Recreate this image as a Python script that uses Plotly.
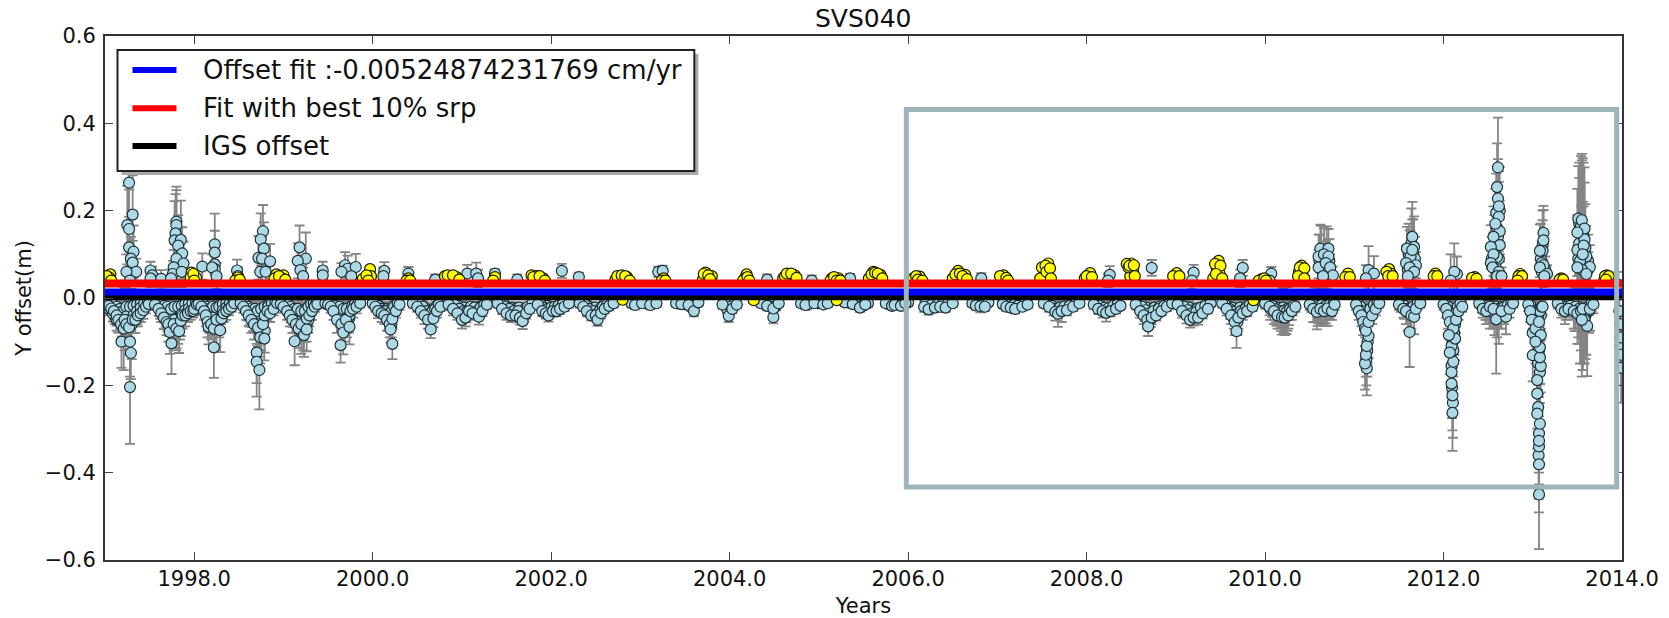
import plotly.graph_objects as go

TITLE = "SVS040"
X_LABEL = "Years"
Y_LABEL = "Y offset(m)"
X_TICKS = [1998, 2000, 2002, 2004, 2006, 2008, 2010, 2012, 2014]
X_TICK_LABELS = ["1998.0", "2000.0", "2002.0", "2004.0", "2006.0", "2008.0", "2010.0", "2012.0", "2014.0"]
Y_TICKS = [-0.6, -0.4, -0.2, 0.0, 0.2, 0.4, 0.6]
LEGEND_LABELS = ["Offset fit :-0.00524874231769 cm/yr", "Fit with best 10% srp", "IGS offset"]
LINE_X = [1997, 2014]
OFFSET_FIT = [0.0135, 0.0135]
BEST_FIT = [0.033, 0.033]
IGS_OFFSET = [0.003, 0.003]
BOX_X = [2005.98, 2013.94]
BOX_Y = [-0.4327, 0.4318]

blue_points_1997 = [(1997.02,-0.012,.012),(1997.04,-0.018,.014),(1997.07,-0.024,.016),(1997.1,-0.03,.02),(1997.13,-0.04,.024),(1997.15,-0.05,.03),(1997.18,-0.06,.035),(1997.185,-0.1,.06),(1997.21,-0.07,.095),(1997.22,-0.05,.04),(1997.24,-0.06,.05),(1997.27,-0.067,.05),(1997.28,-0.1,.08),(1997.29,-0.126,.06),(1997.28,-0.204,.13),(1997.31,-0.05,.03),(1997.34,-0.05,.03),(1997.37,-0.04,.025),(1997.4,-0.035,.02),(1997.43,-0.028,.02),(1997.46,-0.02,.015),(1997.49,-0.014,.012),
(1997.27,.264,.1),(1997.31,.191,.09),(1997.25,.167,.09),(1997.27,.158,.09),(1997.27,.116,.07),(1997.32,.106,.06),(1997.29,.09,.05),(1997.31,.081,.05),(1997.35,.06,.03),(1997.24,.06,.04),(1997.28,.04,.03),(1997.51,.063,.02),(1997.53,.052,.02),(1997.51,.045,.02),(1997.63,.044,.02),
(1997.56,-0.015,.012),(1997.6,-0.025,.016),(1997.63,-0.035,.02),(1997.66,-0.045,.026),(1997.69,-0.055,.03),(1997.71,-0.06,.04),(1997.725,-0.078,.05),(1997.745,-0.104,.07),(1997.77,-0.06,.04),(1997.8,-0.07,.05),(1997.83,-0.076,.05),(1997.85,-0.052,.035),(1997.87,-0.04,.03),(1997.9,-0.04,.025),(1997.93,-0.035,.02),(1997.96,-0.03,.02),(1997.99,-0.03,.015),(1998.0,-0.025,.015),(1998.03,-0.015,.012),
(1997.8,.175,.08),(1997.8,.167,.08),(1997.79,.148,.09),(1997.78,.132,.09),(1997.85,.133,.09),(1997.82,.12,.07),(1997.865,.102,.06),(1997.8,.09,.05),(1997.88,.079,.05),(1997.77,.07,.04),(1997.76,.055,.03),(1997.86,.06,.035),(1998.09,.072,.03),(1997.74,.045,.02)]

blue_points_1998 = [(1998.05,-0.013,.012),(1998.08,-0.02,.014),(1998.11,-0.03,.02),(1998.13,-0.04,.025),(1998.15,-0.055,.035),(1998.16,-0.066,.04),(1998.19,-0.06,.035),(1998.22,-0.113,.07),(1998.22,-0.07,.04),(1998.25,-0.05,.03),(1998.29,-0.074,.05),(1998.305,-0.047,.03),(1998.33,-0.035,.02),(1998.36,-0.03,.02),(1998.39,-0.025,.015),(1998.42,-0.02,.012),(1998.45,-0.012,.01),
(1998.23,.123,.07),(1998.23,.104,.05),(1998.23,.077,.04),(1998.23,.066,.03),(1998.2,.07,.03),(1998.25,.05,.03),(1998.48,.063,.025),(1998.49,.05,.02),
(1998.52,-0.012,.01),(1998.55,-0.02,.014),(1998.58,-0.03,.02),(1998.61,-0.04,.025),(1998.64,-0.05,.03),(1998.67,-0.06,.035),(1998.7,-0.125,.07),(1998.7,-0.146,.08),(1998.73,-0.165,.09),(1998.715,-0.068,.05),(1998.74,-0.09,.06),(1998.785,-0.093,.05),(1998.77,-0.06,.04),(1998.79,-0.04,.03),(1998.82,-0.03,.02),(1998.85,-0.035,.02),(1998.89,-0.025,.015),(1998.93,-0.012,.01),
(1998.77,.153,.06),(1998.745,.134,.06),(1998.78,.113,.06),(1998.72,.092,.05),(1998.76,.09,.05),(1998.85,.084,.04),(1998.74,.06,.03),(1998.8,.06,.03)]

blue_points_1999 = [(1998.97,-0.014,.01),(1999.0,-0.02,.014),(1999.04,-0.03,.02),(1999.07,-0.04,.025),(1999.1,-0.05,.03),(1999.125,-0.099,.055),(1999.14,-0.06,.04),(1999.17,-0.07,.045),(1999.2,-0.06,.04),(1999.23,-0.085,.05),(1999.26,-0.072,.05),(1999.26,-0.047,.03),(1999.29,-0.04,.025),(1999.32,-0.03,.02),(1999.35,-0.02,.012),(1999.38,-0.014,.01),
(1999.18,.116,.05),(1999.25,.09,.06),(1999.16,.085,.04),(1999.19,.064,.03),(1999.22,.05,.02),(1999.44,.063,.02),(1999.44,.052,.02),
(1999.47,-0.012,.01),(1999.5,-0.015,.01),(1999.53,-0.02,.014),(1999.56,-0.03,.02),(1999.6,-0.05,.03),(1999.64,-0.108,.04),(1999.65,-0.06,.04),(1999.67,-0.079,.05),(1999.7,-0.05,.03),(1999.74,-0.066,.04),(1999.75,-0.03,.02),(1999.78,-0.025,.02),(1999.82,-0.02,.015),(1999.86,-0.012,.01),
(1999.69,.075,.03),(1999.72,.067,.03),(1999.65,.06,.02),(1999.81,.071,.03),(1999.76,.05,.02)]

blue_points_2000 = [(2000.0,-0.012,.01),(2000.03,-0.02,.012),(2000.06,-0.03,.016),(2000.1,-0.035,.02),(2000.13,-0.04,.02),(2000.16,-0.05,.025),(2000.19,-0.06,.03),(2000.2,-0.072,.03),(2000.22,-0.105,.035),(2000.22,-0.048,.02),(2000.26,-0.03,.015),(2000.3,-0.015,.012),
(2000.13,.062,.02),(2000.12,.05,.02),(2000.4,.056,.015),
(2000.45,-0.012,.01),(2000.5,-0.02,.012),(2000.54,-0.03,.015),(2000.58,-0.04,.02),(2000.62,-0.05,.02),(2000.65,-0.072,.02),(2000.68,-0.047,.02),(2000.72,-0.03,.015),(2000.76,-0.02,.01),(2000.7,.042,.012),
(2000.85,-0.015,.012),(2000.9,-0.025,.015),(2000.95,-0.035,.015),(2001.0,-0.05,.02),(2001.04,-0.045,.02),(2001.08,-0.03,.015),(2001.12,-0.035,.015),(2001.19,-0.043,.018),(2001.23,-0.03,.012),(2001.28,-0.015,.01),(2001.06,.056,.02),(2001.16,.056,.025),(2001.18,.045,.02),(2001.37,.056,.01),
(2001.4,-0.012,.01),(2001.45,-0.025,.012),(2001.5,-0.035,.015),(2001.55,-0.04,.015),(2001.6,-0.04,.016),(2001.65,-0.045,.016),(2001.68,-0.053,.018),(2001.72,-0.035,.012),(2001.76,-0.025,.01),(2001.62,.042,.012),
(2001.85,-0.015,.01),(2001.9,-0.03,.012),(2001.94,-0.035,.012),(2001.97,-0.04,.014),(2002.02,-0.03,.012),(2002.06,-0.03,.012),(2002.1,-0.025,.012),(2002.15,-0.02,.01),(2002.2,-0.012,.01),(2002.12,.062,.016),(2002.31,.048,.01),
(2002.32,-0.012,.01),(2002.36,-0.02,.01),(2002.4,-0.03,.012),(2002.45,-0.04,.012),(2002.5,-0.04,.012),(2002.52,-0.05,.014),(2002.56,-0.035,.012),(2002.6,-0.025,.01),(2002.65,-0.018,.01),(2002.7,-0.012,.01)]

blue_points_2003 = [(2002.9,-0.012,.01),(2002.94,-0.016,.01),(2003.02,-0.012,.01),(2003.11,-0.016,.01),(2003.18,-0.012,.008),(2003.2,.06,.012),(2003.25,.062,.012),
(2003.4,-0.012,.008),(2003.46,-0.014,.01),(2003.54,-0.016,.01),(2003.6,-0.03,.012),(2003.65,-.01,.008),
(2003.92,-0.015,.01),(2003.99,-0.041,.014),(2004.03,-0.025,.01),(2004.08,-.015,.008),(2004.35,-.012,.008),(2004.42,-.018,.01),(2004.42,.042,.012),(2004.49,-.044,.014),(2004.49,-.024,.01),(2004.55,-.012,.008),
(2004.8,-.012,.008),(2004.85,-.016,.01),(2004.92,.04,.012),(2004.95,-.012,.008),(2005.05,-.015,.008),(2005.1,-.012,.008),(2005.35,.045,.01),(2005.38,-.014,.008),(2005.46,-.022,.01),(2005.52,-.015,.008),(2005.75,-.012,.008),(2005.82,-.018,.008),(2005.85,-.016,.008),(2005.92,-.018,.008),(2005.97,-.012,.008)]

blue_points_2006 = [(2006.18,-.02,.012),(2006.23,-.026,.012),(2006.3,-.022,.01),(2006.36,-.02,.008),(2006.42,-.022,.01),(2006.5,-.012,.008),
(2006.72,-.012,.008),(2006.76,-.017,.01),(2006.81,-.019,.014),(2006.86,-.02,.01),(2006.82,.045,.012),(2007.06,-.014,.008),(2007.1,-.02,.01),(2007.15,-.022,.01),(2007.2,-.025,.01),(2007.28,-.02,.008),(2007.34,-.015,.008),
(2007.52,-.012,.01),(2007.58,-.02,.012),(2007.65,-.032,.02),(2007.68,-.036,.03),(2007.72,-.03,.025),(2007.78,-.028,.012),(2007.85,-.02,.01),(2007.92,-.012,.008),
(2008.08,-.015,.01),(2008.13,-.025,.012),(2008.18,-.03,.015),(2008.22,-.034,.02),(2008.27,-.03,.012),(2008.33,-.025,.01),(2008.38,-.018,.008),(2008.26,.053,.02),(2008.24,.04,.015),
(2008.55,-.015,.01),(2008.6,-.03,.015),(2008.64,-.04,.02),(2008.68,-.05,.02),(2008.69,-.065,.022),(2008.73,-.045,.015),(2008.78,-.04,.012),(2008.84,-.03,.01),(2008.9,-.02,.01),(2008.96,-.012,.008),(2008.73,.069,.018),
(2009.02,-.015,.01),(2009.07,-.03,.015),(2009.12,-.04,.018),(2009.16,-.05,.018),(2009.2,-.045,.018),(2009.25,-.045,.016),(2009.3,-.035,.012),(2009.36,-.025,.01),(2009.2,.058,.018),(2009.18,.04,.02),
(2009.52,-.012,.01),(2009.57,-.025,.015),(2009.62,-.04,.02),(2009.66,-.055,.03),(2009.68,-.076,.038),(2009.7,-.045,.025),(2009.75,-.035,.015),(2009.8,-.03,.012),(2009.86,-.02,.01),(2009.75,.069,.018),(2009.72,.045,.02)]

blue_points_2010 = [(2010.0,-.012,.012),(2010.05,-.02,.02),(2010.1,-.03,.03),(2010.14,-.04,.03),(2010.19,-.044,.04),(2010.22,-.045,.04),(2010.26,-.04,.03),(2010.3,-.03,.02),(2010.34,-.02,.012),(2010.07,.056,.015),(2010.05,.04,.012),
(2010.5,-.015,.012),(2010.54,-.025,.03),(2010.58,-.032,.04),(2010.62,-.025,.03),(2010.66,-.03,.02),(2010.7,-.024,.04),(2010.75,-.03,.02),(2010.78,-.015,.012),
(2010.62,.113,.055),(2010.71,.113,.045),(2010.6,.095,.05),(2010.66,.1,.06),(2010.71,.095,.04),(2010.6,.07,.04),(2010.68,.08,.05),(2010.73,.07,.03),(2010.76,.052,.02),(2010.65,.05,.03),
(2011.02,-.015,.012),(2011.05,-.03,.02),(2011.08,-.04,.025),(2011.1,-.055,.03),(2011.12,-.07,.04),(2011.14,-.161,.062),(2011.12,-.15,.06),(2011.13,-.13,.05),(2011.14,-.11,.05),(2011.16,-.087,.05),(2011.13,-.075,.04),(2011.16,-.055,.03),(2011.2,-.04,.02),(2011.24,-.025,.015),(2011.28,-.012,.01),(2011.16,.064,.055),(2011.22,.056,.04),(2011.13,.045,.03),
(2011.5,-.015,.012),(2011.55,-.025,.02),(2011.58,-.03,.03),(2011.62,-.078,.08),(2011.64,-.04,.03),(2011.67,-.043,.04),(2011.69,-.025,.02),(2011.74,-.012,.01),
(2011.65,.14,.08),(2011.67,.117,.07),(2011.59,.113,.05),(2011.63,.095,.06),(2011.65,.11,.07),(2011.58,.08,.04),(2011.69,.075,.03),(2011.62,.07,.04),(2011.67,.06,.03),(2011.6,.05,.03)]

blue_points_2012 = [(2012.0,-.015,.012),(2012.03,-.025,.02),(2012.05,-.04,.03),(2012.07,-.055,.035),(2012.1,-.263,.087),(2012.1,-.223,.08),(2012.09,-.196,.07),(2012.09,-.17,.06),(2012.11,-.146,.06),(2012.07,-.125,.05),(2012.13,-.093,.05),(2012.11,-.07,.04),(2012.06,-.085,.04),(2012.14,-.05,.03),(2012.17,-.03,.02),(2012.21,-.02,.012),
(2012.15,.055,.04),(2012.12,.06,.065),(2012.08,.04,.06),
(2012.4,-.012,.01),(2012.44,-.025,.02),(2012.48,-.03,.03),(2012.52,-.02,.05),(2012.56,-.025,.04),(2012.59,-.049,.124),(2012.7,-.043,.04),(2012.65,-.03,.04),(2012.74,-.025,.02),(2012.78,-.012,.01),
(2012.61,.299,.114),(2012.6,.254,.1),(2012.61,.228,.09),(2012.62,.21,.08),(2012.62,.186,.08),(2012.63,.153,.07),(2012.58,.17,.08),(2012.56,.14,.07),(2012.63,.121,.06),(2012.53,.117,.05),(2012.6,.094,.05),(2012.56,.1,.05),(2012.53,.08,.04),(2012.55,.07,.04),(2012.62,.06,.03),(2012.6,.05,.03),(2012.65,.05,.02),
(2012.95,-.015,.015),(2012.97,-.03,.025),(2012.99,-.05,.035),(2013.0,-.131,.06),(2013.0,-.08,.05),(2013.03,-.07,.05),(2013.07,-.45,.125),(2013.07,-.381,.11),(2013.07,-.34,.1),(2013.07,-.327,.1),(2013.08,-.288,.09),(2013.05,-.265,.08),(2013.05,-.219,.08),(2013.05,-.188,.07),(2013.09,-.156,.06),(2013.08,-.136,.06),(2013.08,-.113,.05),(2013.09,-.085,.05),(2013.03,-.1,.05),(2013.07,-.055,.04),(2013.11,-.02,.02),
(2013.12,.149,.062),(2013.12,.132,.07),(2013.11,.108,.07),(2013.08,.108,.06),(2013.12,.075,.05),(2013.08,.07,.04),(2013.16,.055,.02),(2013.13,.05,.02),
(2013.28,-.012,.012),(2013.32,-.025,.02),(2013.36,-.03,.03),(2013.4,-.025,.02),(2013.46,-.03,.04),(2013.5,-.035,.07),(2013.54,-.03,.09),(2013.58,-.05,.1),(2013.61,-.064,.115),(2013.55,-.05,.13),(2013.56,-.025,.14),(2013.64,-.025,.05),(2013.68,-.015,.02),
(2013.51,.182,.12),(2013.55,.178,.152),(2013.58,.159,.14),(2013.58,.134,.13),(2013.5,.15,.1),(2013.5,.11,.08),(2013.6,.095,.07),(2013.64,.071,.05),(2013.53,.085,.06),(2013.55,.065,.05),(2013.5,.07,.05),(2013.6,.055,.04),(2013.57,.12,.09),(2013.56,.1,.12),
(2013.98,-.06,.04),(2013.98,-.11,.06),(2013.99,-.16,.08),(2013.97,-.03,.03),(2013.96,.03,.03),(2013.98,-.09,.05),(2013.99,-.13,.07)]

blue_inner_early = [(1997.01,-.01,.01),(1997.05,-.012,.01),(1997.05,-.026,.014),(1997.09,-.015,.012),(1997.09,-.036,.018),(1997.13,-.02,.015),(1997.13,-.05,.025),(1997.17,-.025,.018),(1997.17,-.042,.03),(1997.2,-.03,.03),(1997.2,-.058,.05),(1997.24,-.02,.04),(1997.24,-.042,.06),(1997.28,-.02,.05),(1997.28,-.05,.07),(1997.32,-.018,.03),(1997.32,-.04,.04),(1997.36,-.015,.02),(1997.36,-.03,.03),(1997.4,-.012,.014),(1997.4,-.022,.018),(1997.44,-.012,.012),(1997.48,-.01,.01),
(1997.58,-.012,.01),(1997.62,-.014,.012),(1997.62,-.03,.018),(1997.66,-.018,.015),(1997.66,-.036,.02),(1997.7,-.02,.018),(1997.7,-.046,.03),(1997.74,-.025,.02),(1997.74,-.06,.04),(1997.78,-.02,.02),(1997.78,-.05,.04),(1997.82,-.02,.02),(1997.82,-.06,.045),(1997.86,-.018,.02),(1997.86,-.036,.03),(1997.9,-.014,.014),(1997.9,-.028,.02),(1997.94,-.012,.012),(1997.94,-.024,.018),(1997.98,-.012,.01),(1998.02,-.01,.01),
(1998.07,-.012,.01),(1998.1,-.014,.012),(1998.13,-.02,.016),(1998.13,-.032,.02),(1998.17,-.025,.02),(1998.17,-.05,.03),(1998.21,-.02,.025),(1998.21,-.045,.04),(1998.25,-.022,.03),(1998.25,-.062,.05),(1998.28,-.02,.02),(1998.28,-.05,.04),(1998.32,-.014,.014),(1998.32,-.028,.018),(1998.36,-.012,.012),(1998.36,-.022,.014),(1998.4,-.012,.01),(1998.44,-.01,.01),
(1998.53,-.01,.01),(1998.57,-.014,.012),(1998.6,-.02,.014),(1998.6,-.032,.02),(1998.64,-.024,.018),(1998.64,-.04,.026),(1998.68,-.025,.02),(1998.68,-.05,.03),(1998.71,-.03,.03),(1998.71,-.06,.05),(1998.75,-.025,.03),(1998.75,-.07,.05),(1998.79,-.02,.02),(1998.79,-.075,.05),(1998.83,-.016,.014),(1998.83,-.02,.016),(1998.87,-.012,.012),(1998.91,-.01,.01),
(1999.01,-.012,.01),(1999.05,-.016,.012),(1999.08,-.02,.016),(1999.08,-.034,.022),(1999.12,-.025,.02),(1999.12,-.05,.03),(1999.16,-.025,.02),(1999.16,-.055,.04),(1999.2,-.03,.025),(1999.2,-.078,.05),(1999.24,-.03,.025),(1999.24,-.06,.04),(1999.28,-.02,.016),(1999.28,-.05,.03),(1999.31,-.014,.012),(1999.34,-.012,.01),(1999.37,-.01,.01),
(1999.49,-.01,.01),(1999.53,-.012,.01),(1999.57,-.018,.014),(1999.6,-.025,.018),(1999.63,-.04,.025),(1999.63,-.02,.014),(1999.67,-.05,.035),(1999.67,-.025,.018),(1999.71,-.025,.018),(1999.71,-.055,.035),(1999.74,-.04,.025),(1999.77,-.018,.014),(1999.8,-.014,.012),(1999.84,-.01,.01),
(2000.02,-.012,.01),(2000.06,-.018,.012),(2000.09,-.025,.014),(2000.12,-.03,.016),(2000.15,-.03,.018),(2000.18,-.045,.025),(2000.21,-.03,.018),(2000.21,-.06,.03),(2000.24,-.02,.014),(2000.28,-.012,.01),
(2000.47,-.01,.01),(2000.52,-.014,.01),(2000.56,-.02,.012),(2000.6,-.03,.014),(2000.63,-.04,.016),(2000.67,-.03,.014),(2000.7,-.025,.012),(2000.74,-.015,.01),
(2000.88,-.012,.01),(2000.92,-.016,.012),(2000.97,-.025,.014),(2001.02,-.03,.014),(2001.06,-.03,.014),(2001.1,-.02,.012),(2001.14,-.022,.012),(2001.17,-.03,.012),(2001.21,-.022,.012),(2001.25,-.016,.01),
(2001.43,-.012,.01),(2001.48,-.02,.01),(2001.53,-.025,.012),(2001.58,-.03,.012),(2001.63,-.03,.012),(2001.7,-.04,.014),(2001.74,-.02,.01),(2001.79,-.012,.01),
(2001.88,-.014,.01),(2001.92,-.022,.012),(2001.96,-.025,.012),(2002.0,-.022,.01),(2002.04,-.02,.01),(2002.08,-.018,.01),(2002.13,-.014,.01),
(2002.34,-.012,.008),(2002.38,-.016,.01),(2002.42,-.025,.01),(2002.47,-.03,.012),(2002.54,-.03,.012),(2002.58,-.02,.01),(2002.63,-.014,.01),(2002.68,-.01,.008)]

blue_inner_middle = [(2003.45,-.012,.008),(2003.5,-.014,.008),(2003.57,-.02,.01),(2003.95,-.012,.008),(2003.97,-.025,.01),(2004.01,-.02,.01),(2004.39,-.013,.008),(2004.46,-.02,.01),(2004.52,-.018,.01),(2004.82,-.012,.008),(2004.88,-.015,.008),(2005.0,-.012,.008),(2005.42,-.015,.01),(2005.49,-.018,.008),(2005.55,-.012,.008),(2005.78,-.014,.008),(2005.88,-.014,.008),(2005.95,-.014,.008),(2006.0,-.01,.008),(2005.33,-.01,.008),(2005.29,-.01,.008),(2002.96,-.01,.008),(2003.06,-.012,.008),(2003.14,-.012,.008),
(2006.2,-.012,.01),(2006.26,-.016,.01),(2006.33,-.014,.008),(2006.39,-.014,.008),(2006.45,-.012,.008),(2006.74,-.012,.008),(2006.79,-.014,.01),(2006.84,-.014,.01),(2006.9,-.01,.008),(2007.08,-.012,.008),(2007.12,-.014,.008),(2007.18,-.016,.008),(2007.23,-.018,.01),(2007.31,-.012,.008),(2007.55,-.014,.01),(2007.61,-.018,.012),(2007.63,-.025,.015),(2007.7,-.022,.02),(2007.75,-.02,.015),(2007.81,-.018,.01),(2007.88,-.012,.008),(2008.1,-.012,.01),(2008.15,-.018,.012),(2008.2,-.022,.016),(2008.24,-.024,.018),(2008.3,-.018,.012),(2008.35,-.014,.01),
(2008.57,-.015,.012),(2008.62,-.02,.014),(2008.66,-.028,.016),(2008.7,-.035,.02),(2008.75,-.03,.016),(2008.81,-.025,.012),(2008.87,-.018,.01),(2008.93,-.012,.008),
(2009.04,-.014,.012),(2009.09,-.02,.014),(2009.13,-.028,.016),(2009.18,-.035,.018),(2009.23,-.032,.016),(2009.28,-.022,.012),(2009.33,-.018,.01),(2009.39,-.012,.008),
(2009.55,-.014,.012),(2009.6,-.025,.016),(2009.64,-.032,.02),(2009.67,-.038,.025),(2009.73,-.03,.018),(2009.78,-.025,.012),(2009.83,-.016,.01),(2009.88,-.01,.008)]

blue_inner_late = [(2010.03,-.012,.014),(2010.08,-.018,.025),(2010.12,-.026,.03),(2010.17,-.03,.04),(2010.21,-.03,.05),(2010.24,-.032,.05),(2010.28,-.025,.025),(2010.32,-.018,.014),
(2010.52,-.012,.02),(2010.56,-.016,.04),(2010.6,-.018,.04),(2010.64,-.015,.03),(2010.68,-.018,.04),(2010.72,-.016,.03),(2010.77,-.012,.012),
(2010.61,.085,.06),(2010.63,.105,.06),(2010.69,.104,.06),(2010.72,.085,.05),(2010.63,.065,.05),(2010.69,.06,.04),
(2011.04,-.012,.014),(2011.07,-.02,.02),(2011.09,-.03,.025),(2011.11,-.04,.03),(2011.14,-.045,.03),(2011.16,-.035,.03),(2011.18,-.025,.02),(2011.22,-.016,.012),(2011.26,-.01,.01),(2011.145,-.12,.06),(2011.135,-.14,.06),(2011.15,-.1,.05),
(2011.52,-.012,.02),(2011.56,-.018,.03),(2011.6,-.025,.05),(2011.63,-.025,.05),(2011.66,-.02,.03),(2011.71,-.012,.014),
(2011.61,.1,.07),(2011.64,.125,.08),(2011.66,.1,.08),(2011.68,.09,.05),(2011.62,.085,.07),(2011.6,.065,.04),(2011.66,.07,.05),
(2012.02,-.012,.014),(2012.05,-.02,.02),(2012.08,-.03,.03),(2012.1,-.04,.03),(2012.12,-.045,.04),(2012.14,-.03,.025),(2012.16,-.02,.014),(2012.19,-.012,.01),(2012.09,-.155,.06),(2012.1,-.1,.05),(2012.11,-.12,.06),(2012.12,-.08,.05),(2012.095,-.205,.07),(2012.105,-.24,.08),(2012.09,-.11,.05),
(2012.42,-.012,.012),(2012.46,-.018,.02),(2012.5,-.022,.03),(2012.54,-.018,.04),(2012.58,-.02,.05),(2012.62,-.025,.08),(2012.67,-.022,.03),(2012.72,-.016,.014),(2012.76,-.01,.01),
(2012.59,.13,.07),(2012.6,.16,.07),(2012.61,.14,.08),(2012.54,.09,.05),(2012.58,.075,.05),(2012.62,.09,.05),(2012.57,.12,.07),(2012.63,.2,.1),(2012.59,.195,.09),
(2012.97,-.015,.02),(2013.0,-.03,.03),(2013.02,-.045,.04),(2013.04,-.06,.05),(2013.06,-.09,.05),(2013.06,-.15,.06),(2013.07,-.12,.05),(2013.06,-.04,.03),(2013.08,-.03,.02),(2013.1,-.02,.014),(2013.06,-.25,.08),(2013.065,-.36,.1),(2013.07,-.31,.09),(2013.08,-.17,.07),
(2013.09,.09,.08),(2013.11,.12,.08),(2013.1,.08,.05),(2013.14,.065,.03),(2013.1,.06,.05),
(2013.3,-.012,.012),(2013.34,-.02,.02),(2013.38,-.02,.02),(2013.42,-.018,.02),(2013.48,-.02,.05),(2013.52,-.025,.08),(2013.56,-.035,.13),(2013.6,-.03,.1),(2013.62,-.02,.05),(2013.66,-.012,.02),
(2013.52,.17,.14),(2013.54,.165,.16),(2013.56,.15,.17),(2013.55,.125,.19),(2013.52,.125,.15),(2013.59,.115,.1),(2013.51,.09,.07),(2013.62,.085,.06),(2013.57,.08,.08),(2013.62,.065,.04),(2013.54,.11,.1),(2013.57,.14,.17)]

blue_dense_early = [(1997.03,-.02,.012),(1997.07,-.014,.01),(1997.11,-.022,.015),(1997.11,-.04,.02),(1997.15,-.03,.02),(1997.15,-.024,.016),(1997.19,-.035,.03),(1997.19,-.048,.04),(1997.22,-.03,.05),(1997.22,-.04,.08),(1997.26,-.03,.06),(1997.26,-.05,.08),(1997.3,-.03,.05),(1997.3,-.06,.08),(1997.34,-.025,.02),(1997.34,-.035,.03),(1997.38,-.02,.016),(1997.38,-.03,.02),(1997.42,-.016,.012),(1997.46,-.012,.01),
(1997.6,-.018,.012),(1997.64,-.024,.016),(1997.68,-.028,.018),(1997.68,-.042,.024),(1997.72,-.03,.02),(1997.72,-.052,.035),(1997.76,-.03,.03),(1997.76,-.045,.05),(1997.8,-.03,.04),(1997.8,-.055,.06),(1997.84,-.028,.03),(1997.84,-.045,.05),(1997.88,-.022,.02),(1997.92,-.018,.016),(1997.96,-.016,.014),(1998.0,-.014,.01),
(1998.09,-.016,.012),(1998.12,-.024,.016),(1998.15,-.03,.02),(1998.15,-.045,.03),(1998.19,-.035,.03),(1998.19,-.05,.04),(1998.23,-.03,.03),(1998.23,-.055,.05),(1998.27,-.035,.03),(1998.3,-.03,.03),(1998.3,-.04,.03),(1998.34,-.018,.014),(1998.38,-.014,.012),
(1998.55,-.012,.01),(1998.59,-.024,.014),(1998.62,-.028,.018),(1998.62,-.038,.024),(1998.66,-.03,.02),(1998.66,-.046,.03),(1998.7,-.035,.03),(1998.7,-.055,.05),(1998.73,-.04,.04),(1998.73,-.075,.06),(1998.77,-.035,.04),(1998.77,-.05,.05),(1998.81,-.025,.02),(1998.85,-.018,.014),(1998.89,-.014,.01),
(1999.03,-.018,.012),(1999.06,-.024,.016),(1999.1,-.03,.02),(1999.1,-.04,.026),(1999.14,-.035,.024),(1999.14,-.048,.03),(1999.18,-.035,.03),(1999.18,-.05,.04),(1999.22,-.04,.03),(1999.22,-.07,.05),(1999.26,-.025,.02),(1999.26,-.06,.04),(1999.3,-.025,.016),(1999.33,-.018,.012),
(1999.55,-.014,.01),(1999.59,-.02,.014),(1999.62,-.032,.02),(1999.65,-.03,.02),(1999.65,-.045,.03),(1999.69,-.035,.025),(1999.69,-.06,.04),(1999.73,-.03,.02),(1999.73,-.05,.03),(1999.76,-.02,.016),(1999.79,-.016,.012),
(2000.04,-.014,.01),(2000.08,-.02,.012),(2000.11,-.026,.014),(2000.14,-.025,.016),(2000.17,-.038,.02),(2000.2,-.025,.016),(2000.2,-.05,.025),(2000.23,-.035,.018),(2000.25,-.018,.012),
(2000.49,-.012,.01),(2000.55,-.018,.012),(2000.59,-.024,.014),(2000.62,-.03,.016),(2000.65,-.03,.016),(2000.66,-.045,.018),(2000.71,-.02,.012),
(2000.91,-.014,.01),(2000.96,-.018,.012),(2000.99,-.03,.014),(2001.03,-.022,.014),(2001.05,-.04,.016),(2001.09,-.024,.012),(2001.13,-.028,.012),(2001.16,-.022,.012),(2001.2,-.032,.014),(2001.22,-.018,.01),
(2001.47,-.014,.01),(2001.52,-.03,.012),(2001.56,-.022,.012),(2001.6,-.025,.012),(2001.64,-.022,.012),(2001.67,-.04,.014),(2001.71,-.025,.012),
(2001.91,-.016,.01),(2001.95,-.018,.012),(2001.99,-.032,.012),(2002.03,-.022,.012),(2002.07,-.024,.01),(2002.11,-.016,.01),
(2002.41,-.018,.01),(2002.44,-.03,.012),(2002.49,-.022,.012),(2002.51,-.038,.012),(2002.55,-.024,.012),(2002.59,-.016,.01)]

blue_dense_late = [(2008.59,-.02,.012),(2008.63,-.025,.014),(2008.65,-.035,.018),(2008.67,-.022,.016),(2008.71,-.028,.018),(2008.72,-.048,.018),(2008.76,-.022,.014),(2008.8,-.032,.012),(2008.82,-.02,.012),
(2009.06,-.018,.012),(2009.1,-.028,.014),(2009.14,-.032,.016),(2009.15,-.022,.014),(2009.19,-.028,.016),(2009.21,-.038,.018),(2009.24,-.025,.014),(2009.27,-.03,.014),(2009.31,-.025,.012),
(2009.58,-.018,.012),(2009.61,-.032,.016),(2009.63,-.022,.016),(2009.65,-.045,.025),(2009.68,-.03,.02),(2009.69,-.055,.03),(2009.72,-.022,.016),(2009.76,-.028,.014),(2009.79,-.02,.012),
(2010.06,-.025,.025),(2010.1,-.02,.03),(2010.13,-.034,.03),(2010.15,-.022,.04),(2010.18,-.036,.04),(2010.2,-.022,.045),(2010.23,-.038,.045),(2010.25,-.025,.05),(2010.27,-.032,.03),(2010.31,-.024,.016),
(2010.55,-.02,.035),(2010.59,-.024,.04),(2010.63,-.02,.04),(2010.67,-.024,.04),(2010.71,-.02,.03),(2010.74,-.022,.02),
(2011.06,-.02,.02),(2011.1,-.035,.025),(2011.13,-.03,.03),(2011.15,-.05,.03),(2011.17,-.028,.02),(2011.21,-.02,.014),
(2012.04,-.018,.016),(2012.07,-.035,.025),(2012.09,-.045,.03),(2012.11,-.03,.03),(2012.13,-.06,.04),(2012.15,-.025,.02),
(2012.43,-.018,.016),(2012.47,-.025,.025),(2012.51,-.028,.03),(2012.55,-.03,.04),(2012.57,-.035,.05),(2012.6,-.03,.06),(2012.64,-.02,.05),(2012.68,-.03,.03),(2012.71,-.02,.016),
(2012.98,-.022,.02),(2013.01,-.04,.03),(2013.03,-.03,.03),(2013.05,-.05,.04),(2013.07,-.075,.05),(2013.09,-.04,.03),
(2013.33,-.018,.016),(2013.37,-.025,.025),(2013.41,-.02,.02),(2013.44,-.02,.03),(2013.47,-.026,.05),(2013.51,-.02,.07),(2013.53,-.04,.11),(2013.57,-.03,.12),(2013.59,-.04,.1),(2013.63,-.03,.05)]

yellow_x = [1997.06,1997.05,1997.97,1998.02,1997.96,1998.49,1998.92,1999.0,1998.98,1999.97,1999.89,1999.98,2000.4,2000.87,2000.81,2000.94,2001.37,2001.78,2001.84,2001.91,2002.77,2002.85,2002.72,2003.26,2003.73,2003.8,2003.7,2004.19,2004.17,2004.66,2004.73,2004.6,2005.145,2005.22,2005.61,2005.69,2005.56,2006.13,2006.06,2006.56,2006.64,2006.5,2007.07,2007.05,2007.57,2007.52,2007.57,2007.48,2008.04,2007.98,2008.5,2008.52,2008.45,2008.49,2009.01,2009.0,2009.48,2009.46,2009.49,2009.42,2009.97,2010.41,2010.42,2010.38,2010.93,2011.39,2011.41,2011.91,2012.35,2012.86,2012.87,2013.32,2013.83,2013.84,2013.8,2004.27,2005.2,2002.8,2009.87,
1997.02,1997.07,1997.99,1998.0,1998.46,1998.51,1998.9,1998.95,1999.02,1999.93,1999.95,2000.38,2000.42,2000.84,2000.9,2000.97,2001.35,2001.8,2001.87,2001.93,2002.74,2002.79,2002.83,2002.88,2003.24,2003.28,2003.71,2003.76,2003.78,2004.15,2004.2,2004.22,2004.62,2004.64,2004.69,2004.75,2005.13,2005.17,2005.2,2005.24,2005.59,2005.63,2005.66,2005.71,2006.09,2006.11,2006.16,2006.53,2006.58,2006.61,2006.66,2007.03,2007.1,2007.12,2007.5,2007.54,2007.55,2007.59,2007.6,2008.0,2008.06,2008.47,2008.48,2008.53,2008.54,2008.97,2009.04,2009.44,2009.5,2009.45,2009.52,2009.93,2009.99,2010.01,2010.39,2010.44,2010.37,2010.44,2010.9,2010.95,2011.36,2011.38,2011.43,2011.89,2011.93,2012.32,2012.37,2012.84,2012.88,2012.83,2013.3,2013.34,2013.81,2013.85,2013.82]
yellow_y = [.054,.047,.058,.047,.047,.047,.054,.052,.045,.066,.044,.05,.045,.048,.05,.048,.048,.052,.05,.045,.048,.048,.042,.045,.058,.05,.042,.054,.045,.052,.052,.045,.045,.045,.06,.053,.045,.049,.045,.062,.053,.045,.052,.045,.079,.064,.053,.045,.057,.045,.079,.062,.078,.05,.057,.045,.085,.067,.056,.045,.044,.074,.052,.06,.056,.066,.056,.056,.048,.055,.046,.045,.052,.044,.04,-.005,-.005,-.004,-.005,
.05,.04,.055,.04,.04,.042,.045,.05,.042,.052,.04,.04,.04,.052,.052,.042,.04,.048,.05,.04,.05,.052,.05,.04,.04,.04,.055,.052,.043,.04,.048,.04,.05,.056,.056,.046,.04,.048,.04,.04,.054,.058,.056,.045,.05,.042,.04,.054,.056,.05,.043,.05,.046,.04,.07,.074,.06,.068,.045,.05,.048,.07,.074,.075,.05,.05,.05,.078,.074,.055,.045,.04,.045,.04,.07,.068,.05,.045,.048,.048,.06,.05,.05,.05,.05,.046,.044,.05,.05,.04,.042,.042,.05,.05,.042]

assert len(yellow_x) == len(yellow_y)

blue_groups = [blue_dense_early, blue_dense_late, blue_inner_early, blue_inner_middle, blue_inner_late,
               blue_points_1997, blue_points_1998, blue_points_1999, blue_points_2000,
               blue_points_2003, blue_points_2006, blue_points_2010, blue_points_2012]
blue_all = [p for g in blue_groups for p in g]
blue_x = [p[0] for p in blue_all]
blue_y = [p[1] for p in blue_all]
blue_e = [p[2] for p in blue_all]

W, H = 1669, 618
L, R, T, B = 104.5, 1622, 36, 559.7
FONT = "DejaVu Sans"
def px(v): return (v - L) / (R - L)
def py(v): return (B - v) / (B - T)

fig = go.Figure()
fig.add_trace(go.Scatter(x=blue_x, y=blue_y, mode="markers", showlegend=False, hoverinfo="skip",
    marker=dict(size=11, color="#ADD8E6", line=dict(color="#1f3035", width=1.2)),
    error_y=dict(type="data", array=blue_e, visible=True, color="#858585", thickness=1.8, width=5)))
fig.add_trace(go.Scatter(x=yellow_x, y=yellow_y, mode="markers", showlegend=False, hoverinfo="skip",
    marker=dict(size=11, color="#FFFF00", line=dict(color="#1a1a00", width=1.2))))
fig.add_trace(go.Scatter(x=LINE_X, y=IGS_OFFSET, mode="lines", showlegend=False, hoverinfo="skip", line=dict(color="#000000", width=7)))
fig.add_trace(go.Scatter(x=LINE_X, y=OFFSET_FIT, mode="lines", showlegend=False, hoverinfo="skip", line=dict(color="#0000FF", width=7)))
fig.add_trace(go.Scatter(x=LINE_X, y=BEST_FIT, mode="lines", showlegend=False, hoverinfo="skip", line=dict(color="#FF0000", width=8)))

shapes = [
    dict(type="rect", xref="x", yref="y", x0=BOX_X[0], x1=BOX_X[1], y0=BOX_Y[0], y1=BOX_Y[1],
         line=dict(color="#9db5b9", width=5), fillcolor="rgba(0,0,0,0)", layer="above"),
    dict(type="rect", xref="paper", yref="paper", x0=px(121), x1=px(698), y0=py(175), y1=py(54),
         fillcolor="#a8a8a8", line=dict(width=0), layer="above"),
    dict(type="rect", xref="paper", yref="paper", x0=px(117), x1=px(694), y0=py(171), y1=py(50),
         fillcolor="#ffffff", line=dict(color="#222222", width=2), layer="above"),
]
key_colors = ["#0000FF", "#FF0000", "#000000"]
key_y = [70, 108.3, 146]
annotations = []
for label, c, y in zip(LEGEND_LABELS, key_colors, key_y):
    shapes.append(dict(type="line", xref="paper", yref="paper", x0=px(132), x1=px(176), y0=py(y), y1=py(y),
                       line=dict(color=c, width=6), layer="above"))
    annotations.append(dict(xref="paper", yref="paper", x=px(201), y=py(y), text=label, showarrow=False,
                            xanchor="left", yanchor="middle", font=dict(family=FONT, size=26, color="#111111")))

axis = dict(showline=True, linewidth=2, linecolor="#333333", mirror="allticks", ticks="inside", ticklen=8,
            tickwidth=1, tickcolor="#444444", showgrid=False, zeroline=False, automargin=False,
            tickfont=dict(family=FONT, size=21, color="#111111"))
fig.update_layout(
    width=W, height=H, autosize=False, paper_bgcolor="white", plot_bgcolor="white",
    margin=dict(l=L, r=W - R, t=T, b=H - B),
    title=dict(text=TITLE, x=(L + R) / 2 / W, xanchor="center", y=1 - 18 / H, yanchor="middle",
               font=dict(family=FONT, size=25, color="#111111")),
    xaxis=dict(axis, range=[1997, 2014], tickvals=X_TICKS, ticktext=X_TICK_LABELS, ticklabelstandoff=-1,
               title=dict(text=X_LABEL, standoff=20, font=dict(family=FONT, size=21, color="#111111"))),
    yaxis=dict(axis, range=[-0.6, 0.6], tickvals=Y_TICKS, tickformat=".1f", ticklabelstandoff=3,
               title=dict(text=Y_LABEL, standoff=7, font=dict(family=FONT, size=21, color="#111111"))),
    shapes=shapes, annotations=annotations, showlegend=False,
)
fig.write_html("out.html", config={"displayModeBar": False},
               post_script="document.body.style.margin='0';document.body.style.overflow='hidden';")
